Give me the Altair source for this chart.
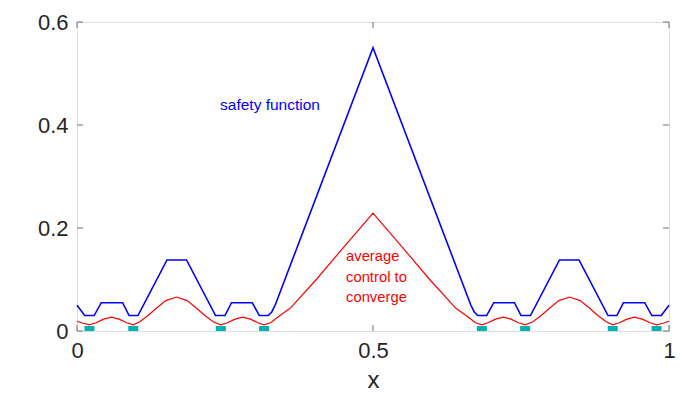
import altair as alt
import pandas as pd

# safety function (blue)
blue_x = [0.0, 0.013, 0.029, 0.041, 0.077, 0.088, 0.103, 0.152, 0.185, 0.234, 0.250, 0.261,
          0.296, 0.308, 0.323, 0.329, 0.335, 0.5,
          0.665, 0.671, 0.677, 0.692, 0.704, 0.739, 0.750, 0.766, 0.815, 0.848, 0.897,
          0.912, 0.923, 0.959, 0.971, 0.987, 1.0]
blue_y = [0.05, 0.03, 0.03, 0.055, 0.055, 0.03, 0.03, 0.138, 0.138, 0.03, 0.03, 0.055,
          0.055, 0.03, 0.03, 0.037, 0.051, 0.55,
          0.051, 0.037, 0.03, 0.03, 0.055, 0.055, 0.03, 0.03, 0.138, 0.138, 0.03,
          0.03, 0.055, 0.055, 0.03, 0.03, 0.05]

# average control to converge (red)
red_x = [0.0, 0.010, 0.021, 0.032, 0.045, 0.058, 0.071, 0.084, 0.095, 0.106, 0.120, 0.135,
         0.150, 0.168, 0.186, 0.201, 0.216, 0.230, 0.243, 0.254, 0.267, 0.280, 0.293,
         0.306, 0.316, 0.327, 0.345, 0.360, 0.405, 0.450, 0.5,
         0.550, 0.595, 0.640, 0.655, 0.673, 0.684, 0.694, 0.707, 0.720, 0.733, 0.746,
         0.757, 0.770, 0.784, 0.799, 0.814, 0.832, 0.850, 0.865, 0.880, 0.894, 0.905,
         0.916, 0.929, 0.942, 0.955, 0.968, 0.979, 0.990, 1.0]
red_y = [0.019, 0.015, 0.012, 0.016, 0.023, 0.027, 0.023, 0.016, 0.012, 0.018, 0.030, 0.045,
         0.059, 0.066, 0.059, 0.045, 0.030, 0.018, 0.012, 0.016, 0.023, 0.027, 0.023,
         0.016, 0.012, 0.016, 0.032, 0.044, 0.101, 0.162, 0.229,
         0.162, 0.101, 0.044, 0.032, 0.016, 0.012, 0.016, 0.023, 0.027, 0.023, 0.016,
         0.012, 0.018, 0.030, 0.045, 0.059, 0.066, 0.059, 0.045, 0.030, 0.018, 0.012,
         0.016, 0.023, 0.027, 0.023, 0.016, 0.012, 0.015, 0.019]

# teal markers
teal_x = [0.021, 0.095, 0.243, 0.316, 0.684, 0.757, 0.905, 0.979]
teal_y = [0, 0, 0, 0, 0, 0, 0, 0]

# annotations
blue_label = ["safety function"]
blue_label_x = [0.2416]
blue_label_y = [0.439]
red_labels = ["average", "control to", "converge"]
red_label_x = [0.4544, 0.4544, 0.4544]
red_label_y = [0.1437, 0.1029, 0.0641]

x_ticks = [0, 0.5, 1]
y_ticks = [0, 0.2, 0.4, 0.6]

W, H = 592, 309
FONT = "Liberation Sans"
AX = "#262626"

xs = alt.Scale(domain=[0, 1], nice=False, zero=False)
ys = alt.Scale(domain=[0, 0.6], nice=False, zero=False)

X = alt.X("x:Q", scale=xs, axis=alt.Axis(values=x_ticks, format="~g", grid=False, ticks=False,
                                          domain=False, labelFontSize=22, labelColor=AX,
                                          labelFont=FONT, labelPadding=9, labelFlush=False,
                                          title="x", titleFontSize=24, titleFont=FONT,
                                          titleFontWeight="normal", titleColor=AX,
                                          titlePadding=7))
Y = alt.Y("y:Q", scale=ys, axis=alt.Axis(values=y_ticks, format="~g", grid=False, ticks=False,
                                          domain=False, labelFontSize=22, labelColor=AX,
                                          labelFont=FONT, labelPadding=9, labelFlush=False,
                                          title=None))

blue_df = pd.DataFrame({"x": blue_x, "y": blue_y})
red_df = pd.DataFrame({"x": red_x, "y": red_y})
teal_df = pd.DataFrame({"x": teal_x, "y": teal_y})

blue = alt.Chart(blue_df).mark_line(color="#0000FF", strokeWidth=1.6).encode(x=X, y=Y)
red = alt.Chart(red_df).mark_line(color="#FF0000", strokeWidth=1.2).encode(x="x:Q", y="y:Q")
teal = alt.Chart(teal_df).mark_square(color="#00B2B2", size=100, opacity=1, clip=True).encode(
    x="x:Q", y="y:Q")

bl = alt.Chart(pd.DataFrame({"x": blue_label_x, "y": blue_label_y, "t": blue_label})).mark_text(
    align="left", baseline="middle", fontSize=15.5, font=FONT, color="#0000FF").encode(
    x="x:Q", y="y:Q", text="t:N")
rl = alt.Chart(pd.DataFrame({"x": red_label_x, "y": red_label_y, "t": red_labels})).mark_text(
    align="left", baseline="middle", fontSize=14.8, font=FONT, color="#FF0000").encode(
    x="x:Q", y="y:Q", text="t:N")

xt = pd.DataFrame({"x": x_ticks})
yt = pd.DataFrame({"y": y_ticks})
TC = "#707070"
tb = alt.Chart(xt).mark_rule(color=TC, strokeWidth=1).encode(x="x:Q", y=alt.value(H), y2=alt.value(H - 6))
tt = alt.Chart(xt).mark_rule(color=TC, strokeWidth=1).encode(x="x:Q", y=alt.value(0), y2=alt.value(6))
tl = alt.Chart(yt).mark_rule(color=TC, strokeWidth=1).encode(y="y:Q", x=alt.value(0), x2=alt.value(6))
tr = alt.Chart(yt).mark_rule(color=TC, strokeWidth=1).encode(y="y:Q", x=alt.value(W), x2=alt.value(W - 6))

chart = alt.layer(blue, red, teal, bl, rl, tb, tt, tl, tr).properties(
    width=W, height=H,
    autosize=alt.AutoSizeParams(type="none"),
    padding={"left": 69, "top": 14, "right": 7, "bottom": 60},
).configure_view(stroke="#707070", strokeWidth=1).configure(background="white")

chart.save("out.html", embed_options={"renderer": "svg", "actions": False})
